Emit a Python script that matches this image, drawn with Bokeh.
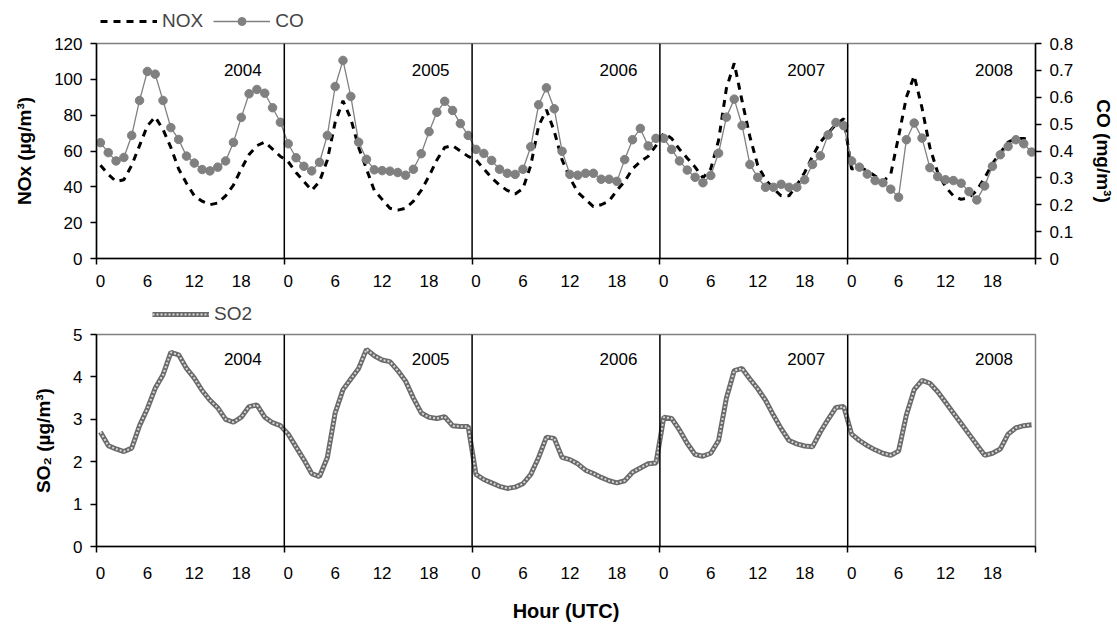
from bokeh.plotting import figure
from bokeh.models import Range1d, LinearAxis, FixedTicker, Span, Legend, LegendItem
from bokeh.layouts import column
from bokeh.embed import file_html
from bokeh.resources import INLINE
from bokeh.core.properties import value

# ---------------- data ----------------
years = ["2004", "2005", "2006", "2007", "2008"]
hour_labels = [0, 6, 12, 18]

nox_2004 = [52, 47, 43, 44, 52, 63, 74, 79, 72, 62, 50, 42, 35, 32, 30, 31, 35, 41, 50, 58, 63, 65, 61, 57]
nox_2005 = [54, 48, 43, 38, 43, 55, 76, 88, 78, 62, 50, 38, 33, 28, 27, 28, 32, 38, 46, 55, 62, 63, 60, 57]
nox_2006 = [55, 50, 45, 41, 38, 36, 39, 52, 74, 83, 71, 55, 45, 37, 33, 29, 30, 32, 38, 43, 50, 54, 57, 63]
nox_2007 = [70, 67, 61, 56, 51, 45, 50, 66, 95, 109, 88, 68, 52, 44, 39, 35, 35, 41, 48, 57, 65, 70, 75, 78]
nox_2008 = [50, 51, 49, 46, 43, 47, 68, 90, 102, 84, 62, 48, 40, 35, 33, 34, 38, 45, 53, 59, 65, 67, 67, 66]

co_2004 = [0.431, 0.394, 0.363, 0.376, 0.458, 0.588, 0.696, 0.686, 0.588, 0.487, 0.443, 0.381,
           0.355, 0.331, 0.326, 0.340, 0.363, 0.432, 0.525, 0.613, 0.629, 0.615, 0.561, 0.507]
co_2005 = [0.427, 0.375, 0.343, 0.326, 0.358, 0.458, 0.640, 0.737, 0.603, 0.433, 0.369, 0.330,
           0.327, 0.325, 0.320, 0.310, 0.332, 0.390, 0.472, 0.544, 0.585, 0.551, 0.502, 0.458]
co_2006 = [0.406, 0.391, 0.365, 0.332, 0.317, 0.313, 0.332, 0.416, 0.572, 0.635, 0.557, 0.399,
           0.313, 0.310, 0.317, 0.317, 0.295, 0.295, 0.287, 0.368, 0.442, 0.484, 0.419, 0.447]
co_2007 = [0.447, 0.406, 0.363, 0.329, 0.302, 0.282, 0.309, 0.392, 0.526, 0.593, 0.495, 0.350,
           0.302, 0.265, 0.265, 0.276, 0.265, 0.265, 0.293, 0.350, 0.382, 0.460, 0.506, 0.494]
co_2008 = [0.363, 0.340, 0.314, 0.290, 0.282, 0.258, 0.228, 0.442, 0.504, 0.448, 0.338, 0.305,
           0.293, 0.290, 0.280, 0.249, 0.218, 0.270, 0.343, 0.386, 0.417, 0.442, 0.427, 0.396]

so2_2004 = [2.70, 2.38, 2.30, 2.24, 2.32, 2.85, 3.25, 3.73, 4.05, 4.58, 4.52, 4.20,
            3.97, 3.68, 3.45, 3.27, 3.00, 2.93, 3.05, 3.30, 3.34, 3.05, 2.92, 2.85]
so2_2005 = [2.65, 2.35, 2.05, 1.72, 1.65, 2.10, 3.15, 3.70, 3.95, 4.20, 4.65, 4.50,
            4.40, 4.36, 4.15, 3.90, 3.50, 3.15, 3.05, 3.02, 3.06, 2.85, 2.83, 2.83]
so2_2006 = [1.70, 1.58, 1.50, 1.42, 1.37, 1.40, 1.48, 1.70, 2.10, 2.58, 2.55, 2.10,
            2.05, 1.95, 1.80, 1.72, 1.63, 1.55, 1.50, 1.55, 1.75, 1.85, 1.95, 1.97]
so2_2007 = [3.05, 3.02, 2.75, 2.43, 2.17, 2.13, 2.20, 2.50, 3.50, 4.15, 4.20, 3.95,
            3.72, 3.45, 3.10, 2.78, 2.50, 2.42, 2.37, 2.35, 2.70, 3.00, 3.28, 3.30]
so2_2008 = [2.65, 2.50, 2.38, 2.28, 2.20, 2.15, 2.25, 3.10, 3.70, 3.92, 3.85, 3.65,
            3.40, 3.15, 2.90, 2.65, 2.40, 2.15, 2.20, 2.30, 2.65, 2.80, 2.85, 2.87]

nox = nox_2004 + nox_2005 + nox_2006 + nox_2007 + nox_2008
co = co_2004 + co_2005 + co_2006 + co_2007 + co_2008
so2 = so2_2004 + so2_2005 + so2_2006 + so2_2007 + so2_2008

NY = len(years)
NH = 24
x = [yi * NH + h + 0.5 for yi in range(NY) for h in range(NH)]
year_x = [yi * NH + 18.7 for yi in range(NY)]
bounds = [yi * NH for yi in range(NY + 1)]

FONT = "Liberation Sans"
GRAY = "#808080"
NOX_STYLE = dict(line_color="black", line_width=3, line_dash="7 6")
CO_LINE = dict(line_color=GRAY, line_width=1.3)
CO_MARK = dict(marker="circle", fill_color=GRAY, line_color=GRAY)
SO2_OUT = dict(line_color="#6a6a6a", line_width=5)
SO2_IN = dict(line_color="#d8d8d8", line_width=2, line_dash="2 2")


def style_xaxis(ax, standoff):
    ticks = [yi * NH + h + 0.5 for yi in range(NY) for h in hour_labels]
    ax.ticker = FixedTicker(ticks=ticks, minor_ticks=bounds)
    ax.major_label_overrides = {t: str(h) for t, h in zip(ticks, hour_labels * NY)}
    ax.major_tick_out = 0
    ax.major_tick_in = 0
    ax.minor_tick_out = 6
    ax.minor_tick_in = 0
    ax.minor_tick_line_color = "black"
    ax.minor_tick_line_width = 1.5
    ax.axis_line_color = "black"
    ax.axis_line_width = 1.5
    ax.major_label_standoff = standoff
    ax.major_label_text_font = FONT
    ax.major_label_text_font_size = "17px"
    ax.major_label_text_color = "black"


def style_yaxis(ax, ticks, overrides=None, standoff=16):
    ax.ticker = FixedTicker(ticks=ticks)
    if overrides:
        ax.major_label_overrides = overrides
    ax.major_tick_out = 6
    ax.major_tick_in = 0
    ax.major_tick_line_width = 1.5
    ax.minor_tick_line_color = None
    ax.axis_line_color = "black"
    ax.axis_line_width = 1.5
    ax.major_label_standoff = 8
    ax.major_label_text_font = FONT
    ax.major_label_text_font_size = "17px"
    ax.major_label_text_color = "black"
    ax.axis_label_text_font = FONT
    ax.axis_label_text_font_size = "19px"
    ax.axis_label_text_font_style = "bold"
    ax.axis_label_text_color = "black"
    ax.axis_label_standoff = standoff


def legend_strip(height):
    f = figure(width=1117, height=height, x_range=Range1d(0, NY * NH), y_range=Range1d(0, 1),
               output_backend="svg", toolbar_location=None, min_border=0)
    f.axis.visible = False
    f.xgrid.visible = False
    f.ygrid.visible = False
    f.outline_line_color = None
    return f


def legend_box(items, loc, gh):
    return Legend(items=items, location=loc, orientation="horizontal",
                  glyph_width=57, glyph_height=gh, label_height=gh,
                  label_text_font=FONT, label_text_font_size="19px",
                  label_standoff=5, spacing=10, padding=0, margin=0,
                  border_line_color=None, background_fill_alpha=0)


# ---------------- legend strip 1 (series shown only as legend keys) ----------------
lf1 = legend_strip(32)
l_nox = lf1.line(x, nox, visible=False, **NOX_STYLE)
l_col = lf1.line(x, co, visible=False, **CO_LINE)
l_cop = lf1.scatter(x, co, size=8.5, visible=False, **CO_MARK)
lf1.add_layout(legend_box([LegendItem(label="NOX", renderers=[l_nox]),
                           LegendItem(label="CO", renderers=[l_col, l_cop])], (4, 0), 20))

# ---------------- top panel: NOx & CO ----------------
p1 = figure(width=1117, height=265, x_range=Range1d(0, NY * NH), y_range=Range1d(0, 120),
            output_backend="svg", toolbar_location=None,
            min_border_left=94, min_border_right=80, min_border_top=11, min_border_bottom=39)
p1.extra_y_ranges = {"co": Range1d(0, 0.8)}
p1.xgrid.visible = False
p1.ygrid.visible = False
p1.outline_line_color = GRAY
p1.outline_line_width = 1.5

style_xaxis(p1.xaxis[0], 10)
style_yaxis(p1.yaxis[0], [0, 20, 40, 60, 80, 100, 120])
p1.yaxis[0].axis_label = "NOx (µg/m³)"

co_axis = LinearAxis(y_range_name="co", axis_label="CO (mg/m³)")
style_yaxis(co_axis, [0, 0.1, 0.2, 0.3, 0.4, 0.5, 0.6, 0.7, 0.8], {0: "0"}, standoff=17)
p1.add_layout(co_axis, "right")

for b in bounds[1:-1]:
    p1.add_layout(Span(location=b, dimension="height", line_color="black", line_width=1.5))

p1.line(x, nox, **NOX_STYLE)
p1.line(x, co, y_range_name="co", **CO_LINE)
p1.scatter(x, co, y_range_name="co", size=8.5, **CO_MARK)

p1.text(x=year_x, y=[105] * NY, text=years, text_align="center", text_baseline="middle",
        text_font=value(FONT), text_font_size="17px", text_color="black")

# ---------------- legend strip 2 ----------------
lf2 = legend_strip(28)
l_so_o = lf2.line(x, so2, visible=False, **SO2_OUT)
l_so_i = lf2.line(x, so2, visible=False, **SO2_IN)
lf2.add_layout(legend_box([LegendItem(label="SO2", renderers=[l_so_o, l_so_i])], (56, 0), 16))

# ---------------- bottom panel: SO2 ----------------
p2 = figure(width=1117, height=299, x_range=Range1d(0, NY * NH), y_range=Range1d(0, 5),
            output_backend="svg", toolbar_location=None,
            min_border_left=96, min_border_right=76, min_border_top=9, min_border_bottom=77)
p2.xgrid.visible = False
p2.ygrid.visible = False
p2.outline_line_color = GRAY
p2.outline_line_width = 1.5

style_xaxis(p2.xaxis[0], 14)
p2.xaxis[0].axis_label = "Hour (UTC)"
p2.xaxis[0].axis_label_text_font = FONT
p2.xaxis[0].axis_label_text_font_size = "20px"
p2.xaxis[0].axis_label_text_font_style = "bold"
p2.xaxis[0].axis_label_text_color = "black"
p2.xaxis[0].axis_label_standoff = 18
style_yaxis(p2.yaxis[0], [0, 1, 2, 3, 4, 5])
p2.yaxis[0].axis_label = "SO₂ (µg/m³)"

for b in bounds[1:-1]:
    p2.add_layout(Span(location=b, dimension="height", line_color="black", line_width=1.5))

p2.line(x, so2, **SO2_OUT)
p2.line(x, so2, **SO2_IN)

p2.text(x=year_x, y=[4.42] * NY, text=years, text_align="center", text_baseline="middle",
        text_font=value(FONT), text_font_size="17px", text_color="black")

layout = column(lf1, p1, lf2, p2, spacing=0)
open("out.html", "w").write(file_html(layout, INLINE))
